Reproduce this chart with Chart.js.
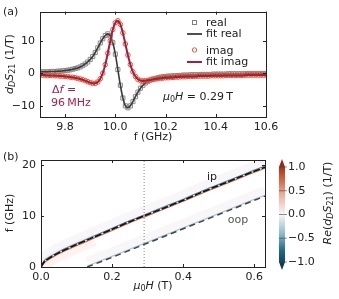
<!DOCTYPE html>
<html>
<head>
<meta charset="utf-8">
<script src="https://cdn.jsdelivr.net/npm/chart.js@4.4.1/dist/chart.umd.min.js"></script>
<style>
body { margin: 0; background: #fff; }
#wrap { position: relative; width: 339px; height: 299px; }
canvas { position: absolute; left: 0; }
</style>
</head>
<body>
<div id="wrap">
  <canvas id="top" width="339" height="145" style="top:0"></canvas>
  <canvas id="bot" width="339" height="154" style="top:145px"></canvas>
</div>
<script>
// ---- panel (a): spectrum at mu0H = 0.29 T ----
var freq = [9.70, 9.71, 9.72, 9.73, 9.74, 9.75, 9.76, 9.77, 9.78, 9.79,
            9.80, 9.81, 9.82, 9.83, 9.84, 9.85, 9.86, 9.87, 9.88, 9.89,
            9.90, 9.91, 9.92, 9.93, 9.94, 9.95, 9.96, 9.97, 9.98, 9.99,
            10.00, 10.01, 10.02, 10.03, 10.04, 10.05, 10.06, 10.07, 10.08, 10.09,
            10.10, 10.11, 10.12, 10.13, 10.14, 10.15, 10.16, 10.17, 10.18, 10.19,
            10.20, 10.21, 10.22, 10.23, 10.24, 10.25, 10.26, 10.27, 10.28, 10.29,
            10.30, 10.31, 10.32, 10.33, 10.34, 10.35, 10.36, 10.37, 10.38, 10.39,
            10.40, 10.41, 10.42, 10.43, 10.44, 10.45, 10.46, 10.47, 10.48, 10.49,
            10.50, 10.51, 10.52, 10.53, 10.54, 10.55, 10.56, 10.57, 10.58, 10.59,
            10.60];
var realVals = [0.5, 0.5, 0.5, 0.5, 0.6, 0.6, 0.6, 0.7, 0.7, 0.8,
                0.9, 1.0, 1.1, 1.3, 1.5, 1.7, 2.0, 2.4, 2.9, 3.5,
                4.3, 5.2, 6.4, 7.8, 9.3, 10.6, 11.6, 12.1, 11.5, 9.4,
                5.9, 1.2, -3.6, -7.5, -9.9, -10.5, -9.9, -8.6, -7.1, -5.7,
                -4.5, -3.6, -2.9, -2.4, -2.0, -1.7, -1.5, -1.3, -1.1, -1.0,
                -0.9, -0.8, -0.8, -0.7, -0.7, -0.6, -0.6, -0.5, -0.5, -0.5,
                -0.4, -0.4, -0.4, -0.4, -0.3, -0.3, -0.3, -0.3, -0.3, -0.2,
                -0.2, -0.2, -0.2, -0.2, -0.2, -0.1, -0.1, -0.1, -0.1, -0.1,
                -0.1, -0.1, 0, 0, 0, 0, 0, 0, 0, 0,
                0];
var imagVals = [-0.5, -0.5, -0.5, -0.6, -0.6, -0.6, -0.7, -0.7, -0.8, -0.8,
                -0.9, -1.0, -1.1, -1.2, -1.3, -1.5, -1.7, -1.9, -2.2, -2.5,
                -2.8, -3.0, -3.0, -2.6, -1.6, 0.1, 2.7, 6.2, 10.0, 13.4,
                15.5, 16.1, 15.0, 12.4, 9.0, 5.6, 2.7, 0.5, -0.9, -1.8,
                -2.2, -2.3, -2.2, -2.1, -2.0, -1.8, -1.7, -1.6, -1.5, -1.4,
                -1.3, -1.3, -1.2, -1.2, -1.1, -1.1, -1.0, -1.0, -1.0, -0.9,
                -0.9, -0.9, -0.9, -0.8, -0.8, -0.8, -0.8, -0.8, -0.7, -0.7,
                -0.7, -0.7, -0.7, -0.7, -0.6, -0.6, -0.6, -0.6, -0.6, -0.6,
                -0.6, -0.6, -0.5, -0.5, -0.5, -0.5, -0.5, -0.5, -0.5, -0.5,
                -0.5];
var freqTicks = [9.8, 10.0, 10.2, 10.4, 10.6];
var signalTicks = [-10, 0, 10];

// ---- panel (b): field sweep ----
var fieldH = 0.29;
var ipH = [0, 0.01, 0.02, 0.05, 0.10, 0.15, 0.20, 0.25, 0.30, 0.35, 0.40, 0.45, 0.50, 0.55, 0.60, 0.63];
var ipF = [0, 1.1, 1.6, 2.8, 4.4, 5.9, 7.4, 8.9, 10.3, 11.7, 13.1, 14.6, 16.0, 17.4, 18.8, 19.6];
var oopH = [0.13, 0.20, 0.30, 0.40, 0.50, 0.60, 0.63];
var oopF = [0, 1.9, 4.7, 7.5, 10.3, 13.1, 13.9];
var fieldTicks = [0, 0.2, 0.4, 0.6];
var freqTicksB = [0, 10, 20];
var cbarTicks = [1.0, 0.5, 0.0, -0.5, -1.0];

Chart.defaults.font.family = '"DejaVu Sans"';
Chart.defaults.font.size = 11;
Chart.defaults.color = '#222';
Chart.defaults.animation = false;

var FONT = '"DejaVu Sans"';
function fmt(v, d) {
  var s = Math.abs(v).toFixed(d);
  return v < 0 ? '\u2212' + s : s;
}
function pts(xs, ys) {
  return xs.map(function (x, i) { return { x: x, y: ys[i] }; });
}
// runs: [text, style]  style: 'i' italic, 's' subscript, 'si' italic subscript
function richText(ctx, runs, x, y, align, color) {
  var fontFor = function (st) {
    return (st.indexOf('i') >= 0 ? 'italic ' : '') + (st.indexOf('s') >= 0 ? 8 : 11) + 'px ' + FONT;
  };
  var w = 0;
  runs.forEach(function (r) { ctx.font = fontFor(r[1]); w += ctx.measureText(r[0]).width; });
  var cx = align === 'center' ? x - w / 2 : (align === 'right' ? x - w : x);
  ctx.fillStyle = color || '#222';
  ctx.textAlign = 'left';
  ctx.textBaseline = 'middle';
  runs.forEach(function (r) {
    ctx.font = fontFor(r[1]);
    ctx.fillText(r[0], cx, y + (r[1].indexOf('s') >= 0 ? 3 : 0));
    cx += ctx.measureText(r[0]).width;
  });
}
function rotText(ctx, runs, x, y) {
  ctx.save();
  ctx.translate(x, y);
  ctx.rotate(-Math.PI / 2);
  richText(ctx, runs, 0, 0, 'center');
  ctx.restore();
}
function seg(ctx, x1, y1, x2, y2) {
  ctx.beginPath(); ctx.moveTo(x1, y1); ctx.lineTo(x2, y2); ctx.stroke();
}

// box around the axes with inward ticks on all four sides
var framePlugin = {
  id: 'frame',
  afterDatasetsDraw: function (chart) {
    var ctx = chart.ctx, a = chart.chartArea, sx = chart.scales.x, sy = chart.scales.y;
    ctx.save();
    ctx.strokeStyle = '#222';
    ctx.lineWidth = 1;
    ctx.strokeRect(Math.round(a.left) + 0.5, Math.round(a.top) + 0.5,
                   Math.round(a.right - a.left), Math.round(a.bottom - a.top));
    sx.ticks.forEach(function (t) {
      var px = Math.round(sx.getPixelForValue(t.value)) + 0.5;
      seg(ctx, px, a.bottom, px, a.bottom - 3);
      seg(ctx, px, a.top, px, a.top + 3);
    });
    sy.ticks.forEach(function (t) {
      var py = Math.round(sy.getPixelForValue(t.value)) + 0.5;
      seg(ctx, a.left, py, a.left + 3, py);
      seg(ctx, a.right, py, a.right - 3, py);
    });
    ctx.restore();
  }
};

// lets a dataset be drawn a few pixels above/below its data (for the shaded sides)
var shiftPlugin = {
  id: 'shift',
  beforeDatasetDraw: function (chart, args) {
    var s = chart.data.datasets[args.index].shiftY;
    if (s) {
      var a = chart.chartArea, ctx = chart.ctx;
      ctx.save();
      ctx.beginPath();
      ctx.rect(a.left, a.top, a.right - a.left, a.bottom - a.top);
      ctx.clip();
      ctx.translate(0, s);
    }
  },
  afterDatasetDraw: function (chart, args) {
    if (chart.data.datasets[args.index].shiftY) chart.ctx.restore();
  }
};

function fixedAxes(xTicks, yTicks, xDec, yDec, yWidth, xHeight, xr, yr) {
  return {
    x: {
      type: 'linear', min: xr[0], max: xr[1],
      grid: { display: false, drawTicks: false },
      border: { display: false },
      ticks: { padding: 4, callback: function (v) { return fmt(v, xDec); } },
      afterBuildTicks: function (s) { s.ticks = xTicks.map(function (v) { return { value: v }; }); },
      afterFit: function (s) { s.height = xHeight; }
    },
    y: {
      type: 'linear', min: yr[0], max: yr[1],
      grid: { display: false, drawTicks: false },
      border: { display: false },
      ticks: { padding: 5, callback: function (v) { return fmt(v, yDec); } },
      afterBuildTicks: function (s) { s.ticks = yTicks.map(function (v) { return { value: v }; }); },
      afterFit: function (s) { s.width = yWidth; }
    }
  };
}

// ---------------- top chart ----------------
var labelsA = {
  id: 'labelsA',
  afterDraw: function (chart) {
    var ctx = chart.ctx;
    ctx.save();
    richText(ctx, [['(a)', '']], 3, 12, 'left');
    rotText(ctx, [['d', 'i'], ['D', 'si'], ['S', 'i'], ['21', 's'], [' (1/T)', '']], 10, 64);
    richText(ctx, [['f (GHz)', '']], 153, 137, 'center');
    // legend
    ctx.strokeStyle = '#808080'; ctx.lineWidth = 1;
    ctx.strokeRect(192.5, 20.5, 4, 4);
    ctx.strokeStyle = '#3a3a3a'; ctx.lineWidth = 1.8;
    seg(ctx, 187, 34, 202, 34);
    ctx.strokeStyle = '#e8582c'; ctx.lineWidth = 1;
    ctx.beginPath(); ctx.arc(194.5, 50, 2.2, 0, Math.PI * 2); ctx.stroke();
    ctx.strokeStyle = '#a51c45'; ctx.lineWidth = 2;
    seg(ctx, 187, 62, 202, 62);
    richText(ctx, [['real', '']], 206, 23, 'left');
    richText(ctx, [['fit real', '']], 206, 34, 'left');
    richText(ctx, [['imag', '']], 206, 51, 'left');
    richText(ctx, [['fit imag', '']], 206, 62, 'left');
    // annotations
    var crim = '#a8204e';
    richText(ctx, [['\u0394', ''], ['f', 'i'], [' =', '']], 52, 90, 'left', crim);
    richText(ctx, [['96\u2009MHz', '']], 51, 103, 'left', crim);
    richText(ctx, [['\u03bc', 'i'], ['0', 's'], ['H', 'i'], [' = 0.29\u2009T', '']], 163, 97, 'left');
    ctx.restore();
  }
};

new Chart(document.getElementById('top'), {
  type: 'line',
  data: {
    datasets: [
      { label: 'fit imag', data: pts(freq, imagVals), borderColor: '#a51c45', borderWidth: 2,
        pointRadius: 0, tension: 0.3, order: 1 },
      { label: 'imag', data: pts(freq, imagVals), showLine: false, pointStyle: 'circle',
        pointRadius: 2.3, pointBorderWidth: 1, pointBorderColor: '#e8582c',
        pointBackgroundColor: 'rgba(0,0,0,0)', order: 2 },
      { label: 'fit real', data: pts(freq, realVals), borderColor: '#3a3a3a', borderWidth: 1.6,
        pointRadius: 0, tension: 0.3, order: 3 },
      { label: 'real', data: pts(freq, realVals), showLine: false, pointStyle: 'rect',
        pointRadius: 2.9, pointBorderWidth: 1, pointBorderColor: '#8a8a8a',
        pointBackgroundColor: 'rgba(0,0,0,0)', order: 4 }
    ]
  },
  options: {
    responsive: false,
    layout: { padding: { left: 0, right: 73, top: 11, bottom: 0 } },
    plugins: { legend: { display: false }, tooltip: { enabled: false } },
    scales: fixedAxes(freqTicks, signalTicks, 1, 0, 40, 28, [9.7, 10.6], [-13.3, 18.9])
  },
  plugins: [framePlugin, labelsA]
});

// ---------------- bottom chart ----------------
var cbarStops = [[0, '#0e4663'], [0.12, '#1f6a88'], [0.3, '#8dbccd'], [0.5, '#f7f7f7'],
                 [0.7, '#f0b29c'], [0.88, '#d2603c'], [1, '#a83217']];
var labelsB = {
  id: 'labelsB',
  afterDraw: function (chart) {
    var ctx = chart.ctx;
    ctx.save();
    richText(ctx, [['(b)', '']], 3, 12, 'left');
    rotText(ctx, [['f (GHz)', '']], 10, 68);
    richText(ctx, [['\u03bc', 'i'], ['0', 's'], ['H', 'i'], [' (T)', '']], 153, 141, 'center');
    richText(ctx, [['ip', '']], 212, 32, 'center');
    richText(ctx, [['oop', '']], 238, 75, 'center', '#555');
    // colour bar
    var x0 = 279, x1 = 285, yTop = 22, yBot = 117;
    var g = ctx.createLinearGradient(0, yBot, 0, yTop);
    cbarStops.forEach(function (s) { g.addColorStop(s[0], s[1]); });
    ctx.fillStyle = g;
    ctx.fillRect(x0, yTop, x1 - x0, yBot - yTop);
    ctx.fillStyle = '#9a2a12';
    ctx.beginPath(); ctx.moveTo(x0, yTop); ctx.lineTo(x1, yTop); ctx.lineTo((x0 + x1) / 2, yTop - 8); ctx.closePath(); ctx.fill();
    ctx.fillStyle = '#0b3b55';
    ctx.beginPath(); ctx.moveTo(x0, yBot); ctx.lineTo(x1, yBot); ctx.lineTo((x0 + x1) / 2, yBot + 8); ctx.closePath(); ctx.fill();
    ctx.strokeStyle = '#444'; ctx.lineWidth = 0.6;
    cbarTicks.forEach(function (v) {
      var py = yBot - (v + 1) / 2 * (yBot - yTop);
      seg(ctx, x0, py, x1 + 2, py);
      richText(ctx, [[fmt(v, 1), '']], x1 + 3, py, 'left');
    });
    ctx.save();
    ctx.translate(328, 58);
    ctx.rotate(-Math.PI / 2);
    richText(ctx, [['Re', 'i'], ['(', ''], ['d', 'i'], ['D', 'si'], ['S', 'i'], ['21', 's'], [')', ''], [' (1/T)', '']], 0, 0, 'center');
    ctx.restore();
    ctx.restore();
  }
};

new Chart(document.getElementById('bot'), {
  type: 'line',
  data: {
    datasets: [
      { label: 'ip', data: pts(ipH, ipF), borderColor: '#111', borderWidth: 1.6,
        borderDash: [7, 2], pointRadius: 0, tension: 0.3, order: 1 },
      { label: 'oop', data: pts(oopH, oopF), borderColor: '#444', borderWidth: 1.5,
        borderDash: [6, 4], pointRadius: 0, order: 1 },
      { label: 'field', data: [{ x: fieldH, y: 0 }, { x: fieldH, y: 21 }], borderColor: '#888',
        borderWidth: 1, borderDash: [1, 2], pointRadius: 0, order: 2 },
      { label: 'ip +', data: pts(ipH, ipF), borderColor: '#d9603a', borderWidth: 1.1,
        pointRadius: 0, tension: 0.3, shiftY: 1.1, order: 3 },
      { label: 'ip -', data: pts(ipH, ipF), borderColor: '#3d8fb2', borderWidth: 1.1,
        pointRadius: 0, tension: 0.3, shiftY: -1.1, order: 3 },
      { label: 'oop -', data: pts(oopH, oopF), borderColor: '#9cc6d6', borderWidth: 1.1,
        pointRadius: 0, shiftY: -1, order: 3 },
      { label: 'ip band', data: pts(ipH, ipF), borderColor: 'rgba(232,226,226,0.3)', borderWidth: 10,
        pointRadius: 0, tension: 0.3, shiftY: -5, order: 8 },
      { label: 'ip low', data: pts(ipH.slice(0, 6), ipF.slice(0, 6)), borderColor: 'rgba(252,222,212,0.35)',
        borderWidth: 12, pointRadius: 0, tension: 0.3, shiftY: 3, order: 8 },
      { label: 'oop band', data: pts(oopH, oopF), borderColor: 'rgba(232,226,226,0.3)', borderWidth: 10,
        pointRadius: 0, shiftY: -5, order: 8 }
    ]
  },
  options: {
    responsive: false,
    layout: { padding: { left: 0, right: 74, top: 15, bottom: 0 } },
    plugins: { legend: { display: false }, tooltip: { enabled: false } },
    scales: fixedAxes(fieldTicks, freqTicksB, 1, 0, 41, 32, [0, 0.63], [0, 21])
  },
  plugins: [shiftPlugin, framePlugin, labelsB]
});
</script>
</body>
</html>
